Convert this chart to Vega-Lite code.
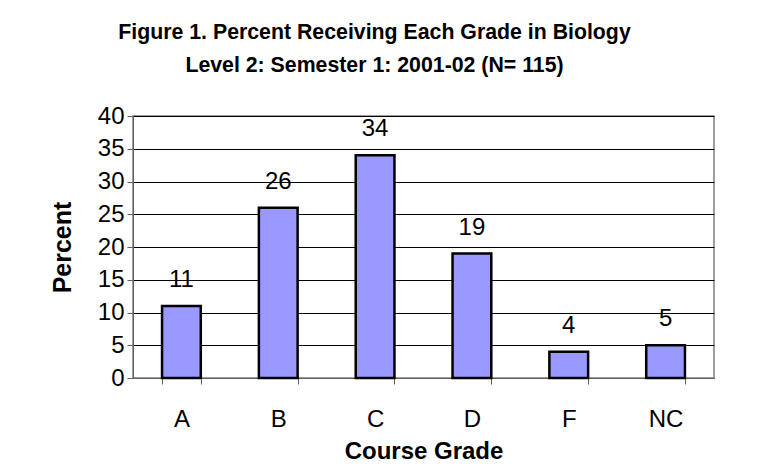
{
  "$schema": "https://vega.github.io/schema/vega-lite/v6.json",
  "width": 581,
  "height": 262,
  "autosize": {"type": "none"},
  "padding": {"left": 133, "top": 116, "right": 51, "bottom": 96},
  "background": "white",
  "title": {
    "text": ["Figure 1. Percent Receiving Each Grade in Biology", "Level 2: Semester 1: 2001-02 (N= 115)"],
    "font": "Liberation Sans",
    "fontSize": 21.3,
    "fontWeight": "bold",
    "color": "black",
    "lineHeight": 33,
    "anchor": "middle",
    "frame": "group",
    "dx": -49,
    "offset": 28
  },
  "data": {
    "values": [
      {"grade": "A", "percent": 11},
      {"grade": "B", "percent": 26},
      {"grade": "C", "percent": 34},
      {"grade": "D", "percent": 19},
      {"grade": "F", "percent": 4},
      {"grade": "NC", "percent": 5}
    ]
  },
  "encoding": {
    "x": {
      "field": "grade",
      "type": "nominal",
      "sort": null,
      "title": "Course Grade",
      "scale": {"paddingInner": 0.6, "paddingOuter": 0.3},
      "axis": {
        "labelAngle": 0,
        "tickBand": "extent",
        "labelFont": "Liberation Sans",
        "labelFontSize": 24,
        "labelColor": "black",
        "labelPadding": 23,
        "tickSize": 6,
        "tickColor": "#606060",
        "domainColor": "#606060",
        "titleFont": "Liberation Sans",
        "titleFontSize": 24,
        "titleFontWeight": "bold",
        "titleColor": "black",
        "titlePadding": 8
      }
    },
    "y": {
      "field": "percent",
      "type": "quantitative",
      "title": "Percent",
      "scale": {"domain": [0, 40], "nice": false},
      "axis": {
        "values": [0, 5, 10, 15, 20, 25, 30, 35, 40],
        "grid": true,
        "gridColor": "black",
        "gridOpacity": 1,
        "gridWidth": 1,
        "labelFont": "Liberation Sans",
        "labelFontSize": 24,
        "labelColor": "black",
        "labelPadding": 3,
        "tickSize": 6,
        "tickColor": "#606060",
        "domainColor": "#606060",
        "titleFont": "Liberation Sans",
        "titleFontSize": 25,
        "titleFontWeight": "bold",
        "titleColor": "black",
        "titlePadding": 22
      }
    }
  },
  "layer": [
    {
      "mark": {"type": "bar", "color": "#9999FF", "stroke": "black", "strokeWidth": 2.5}
    },
    {
      "mark": {"type": "text", "font": "Liberation Sans", "fontSize": 24, "color": "black", "baseline": "middle", "dy": -26},
      "encoding": {"text": {"field": "percent", "type": "quantitative"}}
    }
  ],
  "config": {
    "view": {"stroke": "#808080", "strokeWidth": 1.5}
  }
}
